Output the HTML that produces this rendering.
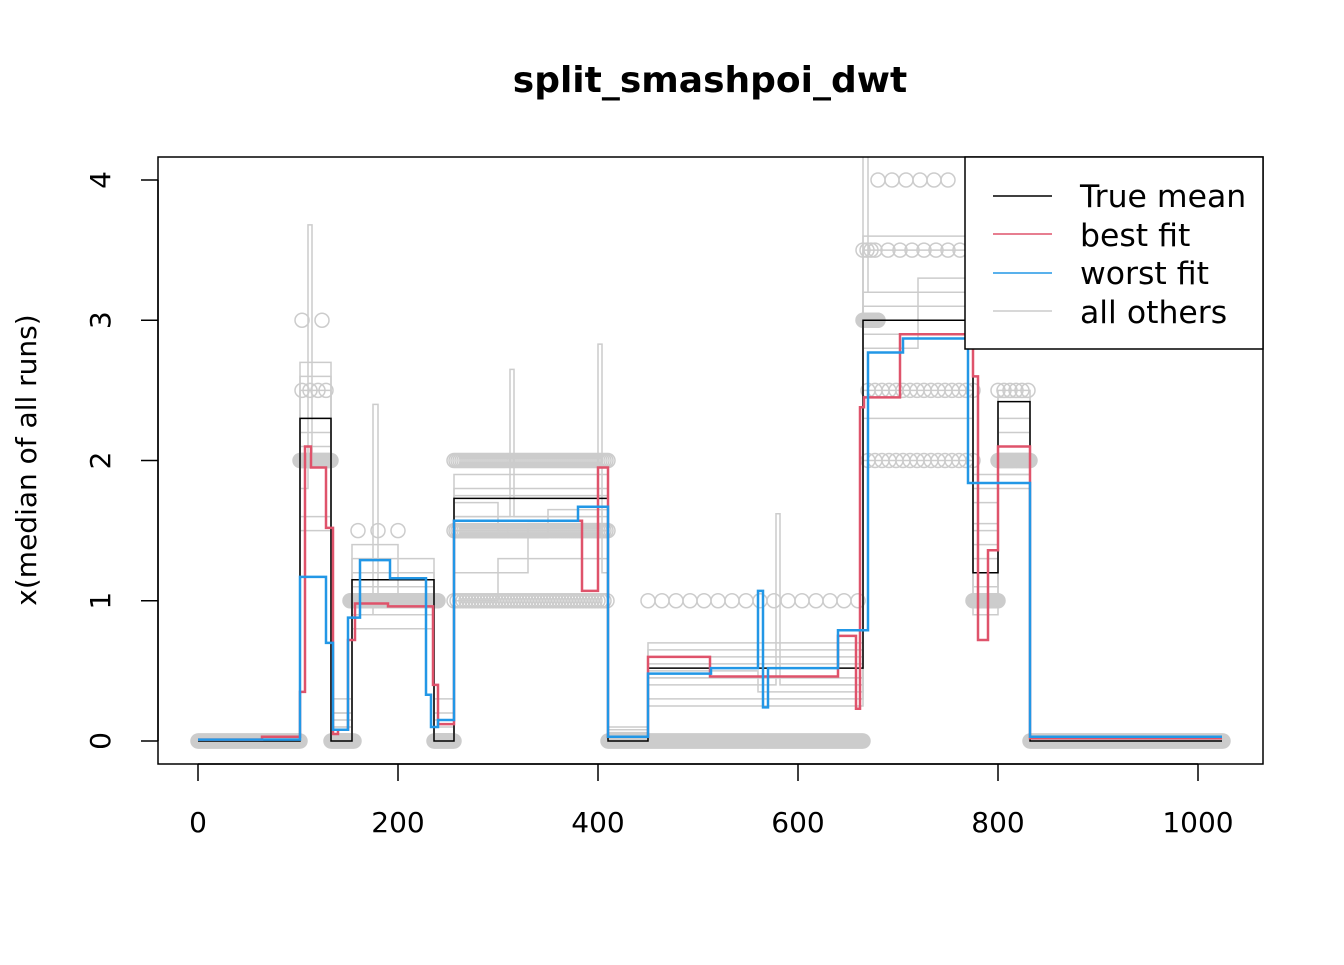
<!DOCTYPE html>
<html><head><meta charset="utf-8"><style>
body{margin:0;background:#fff;}
svg text{font-family:"DejaVu Sans","Liberation Sans",sans-serif;}
</style></head><body>
<svg id="chart" width="1344" height="960" xmlns="http://www.w3.org/2000/svg">
<text x="710" y="92" text-anchor="middle" font-size="36" font-weight="bold">split_smashpoi_dwt</text>
<text transform="translate(36,460) rotate(-90)" text-anchor="middle" font-size="28">x(median of all runs)</text>
<defs><clipPath id="plotclip"><rect x="158" y="157" width="1105" height="607"/></clipPath></defs>
<g id="others" clip-path="url(#plotclip)"></g>
<g id="points" clip-path="url(#plotclip)"></g>
<g id="main" clip-path="url(#plotclip)"></g>
<g id="axes"></g>
<rect x="158" y="157" width="1105" height="607" fill="none" stroke="#000" stroke-width="1.5"/>
<g>
<rect x="965" y="157" width="298" height="192" fill="#fff" stroke="#000" stroke-width="1.5"/>
<line x1="993" x2="1052" y1="196" y2="196" stroke="#000" stroke-width="1.5"/>
<line x1="993" x2="1052" y1="234" y2="234" stroke="#DF536B" stroke-width="1.5"/>
<line x1="993" x2="1052" y1="273" y2="273" stroke="#2297E6" stroke-width="1.5"/>
<line x1="993" x2="1052" y1="311" y2="311" stroke="#ccc" stroke-width="1.5"/>
<text x="1080" y="207" font-size="31.5">True mean</text>
<text x="1080" y="246" font-size="31.5">best fit</text>
<text x="1080" y="284" font-size="31.5">worst fit</text>
<text x="1080" y="323" font-size="31.5">all others</text>
</g>
</svg>
<script>
const xTicks=[0,200,400,600,800,1000];
const yTicks=[0,1,2,3,4];
const trueMean=[[0,0],[102,2.3],[133,0],[154,1.15],[236,0],[256,1.73],[410,0],[450,0.52],[665,3.0],[775,1.2],[800,2.42],[832,0],[1024,0]];
const bestFit=[[0,0.01],[64,0.03],[102,0.35],[107,2.1],[113,1.95],[128,1.52],[135,0.05],[140,0.08],[150,0.72],[157,0.98],[190,0.96],[235,0.4],[240,0.12],[256,1.57],[384,1.07],[400,1.95],[410,0.03],[450,0.6],[512,0.46],[640,0.75],[658,0.23],[662,2.38],[666,2.45],[702,2.9],[775,2.6],[780,0.72],[790,1.36],[800,2.1],[832,0.02],[1024,0.02]];
const worstFit=[[0,0.01],[102,1.17],[128,0.7],[135,0.08],[150,0.88],[162,1.29],[192,1.16],[228,0.33],[233,0.1],[240,0.15],[256,1.57],[380,1.67],[410,0.03],[450,0.48],[513,0.52],[560,1.07],[565,0.24],[570,0.52],[640,0.79],[670,2.77],[705,2.87],[770,1.84],[832,0.03],[1024,0.03]];
const others=[
[[0,0.02],[102,2.5],[133,0.05],[154,1.0],[236,0.05],[256,1.5],[410,0.05],[450,0.45],[665,3.5],[775,1.0],[800,2.0],[832,0.02],[1024,0.02]],
[[0,0.01],[102,2.2],[133,0.1],[154,1.1],[236,0.02],[256,1.7],[300,1.5],[410,0.02],[450,0.55],[665,2.5],[775,1.9],[832,0.01],[1024,0.01]],
[[0,0.02],[102,1.8],[110,3.68],[114,2.0],[133,0.1],[154,0.9],[175,2.4],[180,1.0],[236,0.1],[256,1.6],[312,2.65],[316,1.6],[400,2.83],[404,1.2],[410,0.05],[450,0.4],[578,1.62],[582,0.4],[665,4.2],[670,3.2],[775,1.4],[800,2.2],[832,0.02],[1024,0.02]],
[[0,0.03],[102,1.5],[133,0.2],[154,0.9],[236,0.3],[256,1.0],[300,1.3],[410,0.08],[450,0.3],[665,2.0],[775,1.5],[800,2.5],[832,0.03],[1024,0.03]],
[[0,0.02],[102,2.6],[133,0.05],[154,1.3],[236,0.05],[256,1.9],[410,0.1],[450,0.65],[665,3.2],[775,1.1],[800,2.3],[832,0.02],[1024,0.02]],
[[0,0.01],[102,2.0],[133,0.15],[154,1.05],[236,0.15],[256,1.45],[350,1.65],[410,0.05],[450,0.5],[560,0.35],[665,2.8],[720,3.3],[775,1.7],[800,2.0],[832,0.01],[1024,0.01]],
[[0,0.02],[102,2.7],[133,0.05],[154,0.8],[236,0.05],[256,1.8],[410,0.03],[450,0.7],[665,3.6],[775,1.3],[800,2.1],[832,0.02],[1024,0.02]],
[[0,0.02],[102,1.6],[133,0.3],[154,1.2],[236,0.02],[256,1.2],[330,1.55],[410,0.05],[450,0.25],[665,2.3],[775,1.8],[832,0.02],[1024,0.02]],
[[0,0.03],[102,2.1],[133,0.05],[154,1.4],[200,0.95],[236,0.05],[256,1.75],[410,0.04],[450,0.6],[665,2.9],[775,0.9],[800,2.45],[832,0.03],[1024,0.03]],
[[0,0.01],[102,2.3],[133,0.2],[154,1.0],[236,0.2],[256,1.6],[410,0.06],[450,0.45],[665,3.1],[775,1.55],[800,1.9],[832,0.01],[1024,0.01]]
];
const obsRuns=[[0,102,0,1],[102,133,2,1],[104,132,2.5,8],[104,132,3,20],[133,156,0,1],[152,240,1,1],[160,215,1.5,20],[236,256,0,1],[256,410,2,2],[256,410,1.5,2],[256,410,1,3],[410,665,0,1],[450,665,1,14],[665,680,3,1],[665,680,3.5,4],[670,775,2,7],[670,775,2.5,7],[680,760,4,14],[690,770,3.5,12],[775,800,1,1],[800,832,2,1],[800,832,2.5,6],[832,1025,0,1]];
const X=v=>198+v*1.0, Y=v=>741-v*140.25;
const NS="http://www.w3.org/2000/svg";
function stepPath(s){let d="M"+X(s[0][0])+","+Y(s[0][1]);for(let i=1;i<s.length;i++){d+=" H"+X(s[i][0])+" V"+Y(s[i][1]);}return d;}
function addPath(g,s,col,w,name){const p=document.createElementNS(NS,"path");p.setAttribute("d",stepPath(s));p.setAttribute("fill","none");p.setAttribute("stroke",col);p.setAttribute("stroke-width",w);


g.appendChild(p);}
const go=document.getElementById("others");
others.forEach((s,i)=>addPath(go,s,"#cccccc",1.5,"other-run-"+i));
const gp=document.getElementById("points");
obsRuns.forEach(r=>{for(let x=r[0];x<=r[1];x+=r[3]){const c=document.createElementNS(NS,"circle");c.setAttribute("cx",X(x));c.setAttribute("cy",Y(r[2]));c.setAttribute("r",7);c.setAttribute("fill","none");c.setAttribute("stroke","#cccccc");c.setAttribute("stroke-width",1.5);


gp.appendChild(c);}});
const gm=document.getElementById("main");
addPath(gm,trueMean,"#000",1.5,"true-mean-line");
addPath(gm,bestFit,"#DF536B",2.5,"best-fit-line");
addPath(gm,worstFit,"#2297E6",2.5,"worst-fit-line");
const ga=document.getElementById("axes");
function el(tag,attrs,parent,txt){const e=document.createElementNS(NS,tag);for(const k in attrs)e.setAttribute(k,attrs[k]);if(txt!==undefined)e.textContent=txt;parent.appendChild(e);return e;}
const xa=el("line",{x1:X(0),x2:X(1000),y1:764,y2:764,stroke:"#000","stroke-width":1.5},ga);


xTicks.forEach(t=>{el("line",{x1:X(t),x2:X(t),y1:764,y2:781,stroke:"#000","stroke-width":1.5},ga);
const tx=el("text",{x:X(t),y:832,"text-anchor":"middle","font-size":28},ga,String(t));

});
const ya=el("line",{x1:158,x2:158,y1:Y(0),y2:Y(4),stroke:"#000","stroke-width":1.5},ga);


yTicks.forEach(t=>{el("line",{x1:141,x2:158,y1:Y(t),y2:Y(t),stroke:"#000","stroke-width":1.5},ga);
const tx=el("text",{transform:"translate(110,"+Y(t)+") rotate(-90)","text-anchor":"middle","font-size":28},ga,String(t));

});
</script>
</body></html>
